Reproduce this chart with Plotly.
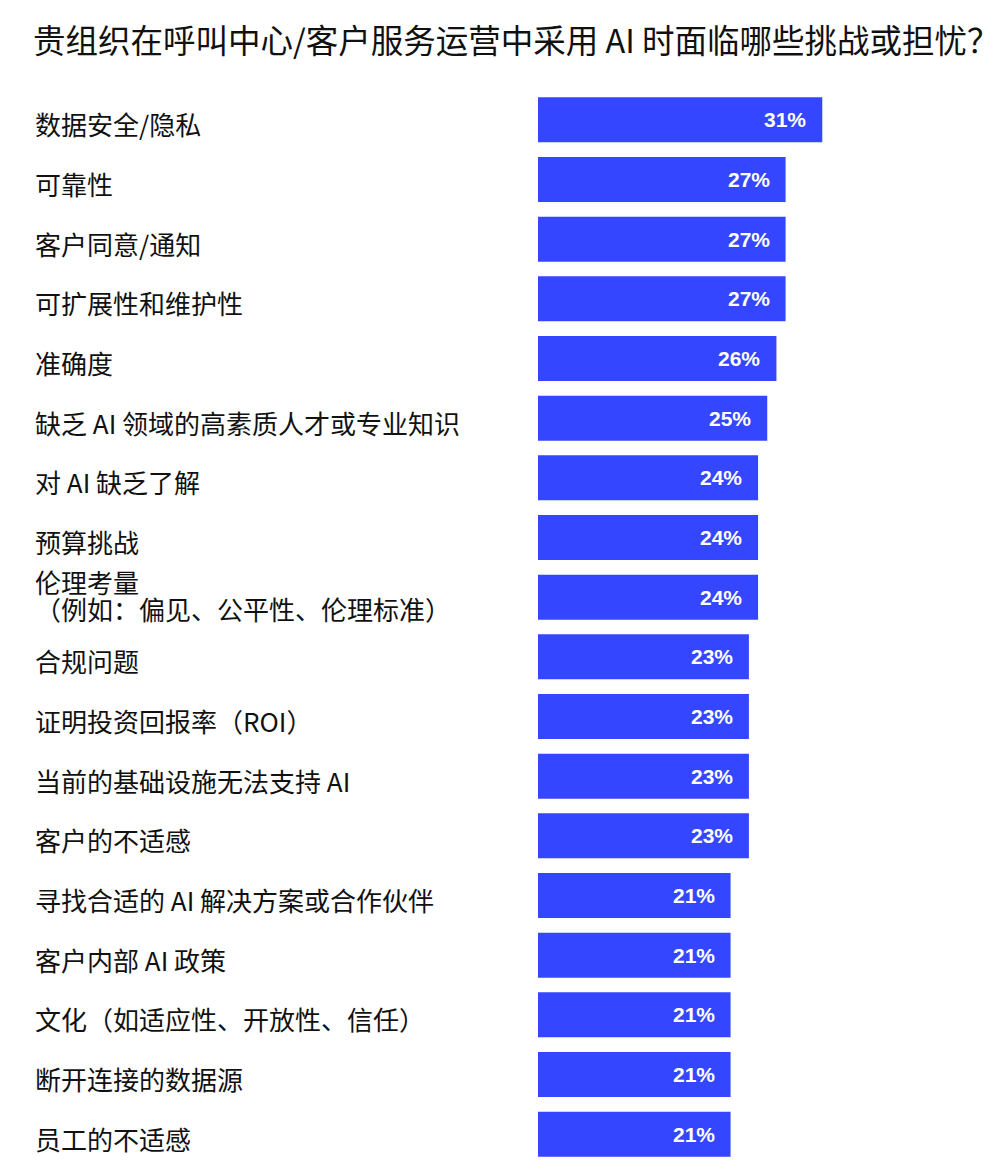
import plotly.graph_objects as go

# 数据
categories = [
    "数据安全/隐私",
    "可靠性",
    "客户同意/通知",
    "可扩展性和维护性",
    "准确度",
    "缺乏 AI 领域的高素质人才或专业知识",
    "对 AI 缺乏了解",
    "预算挑战",
    "伦理考量<br>（例如：偏见、公平性、伦理标准）",
    "合规问题",
    "证明投资回报率（ROI）",
    "当前的基础设施无法支持 AI",
    "客户的不适感",
    "寻找合适的 AI 解决方案或合作伙伴",
    "客户内部 AI 政策",
    "文化（如适应性、开放性、信任）",
    "断开连接的数据源",
    "员工的不适感",
]
values = [31, 27, 27, 27, 26, 25, 24, 24, 24, 23, 23, 23, 23, 21, 21, 21, 21, 21]

title_text = "贵组织在呼叫中心/客户服务运营中采用 AI 时面临哪些挑战或担忧？"

BAR_COLOR = "#3446FF"
CJK = "Noto Sans CJK SC"

# 页面本身有 8px 的边距
W, H = 1000, 1170
ML, MR, MT, MB = 530, 40, 82, 14
plot_w = W - ML - MR
px_per_unit = 9.17
label_x = 25

fig = go.Figure()
fig.add_trace(go.Bar(
    x=values,
    y=categories,
    orientation="h",
    marker=dict(color=BAR_COLOR, line=dict(width=0)),
    hoverinfo="skip",
))

# 左侧标签（两行的标签分开放，行距更紧）
for cat in categories:
    lines = cat.split("<br>")
    shifts = [-4] if len(lines) == 1 else [16, -11]
    for line, ys in zip(lines, shifts):
        fig.add_annotation(
            x=(label_x - ML) / plot_w, xref="paper", xanchor="left",
            y=cat, yref="y", yshift=ys,
            text=line, showarrow=False, align="left",
            font=dict(family=CJK, size=26, color="#111111"),
        )

# 条形末端的百分比
for cat, v in zip(categories, values):
    fig.add_annotation(
        x=v, xref="x", xanchor="right", xshift=-14,
        y=cat, yref="y",
        text="<b>%d%%</b>" % v, showarrow=False,
        font=dict(family="Liberation Sans, Arial", size=21, color="white"),
    )

fig.update_layout(
    width=W, height=H,
    margin=dict(l=ML, r=MR, t=MT, b=MB),
    paper_bgcolor="white", plot_bgcolor="white",
    bargap=0.245,
    showlegend=False,
    title=dict(
        text=title_text, x=label_x / W, xanchor="left", xref="container",
        y=1 - 34 / H, yanchor="middle",
        font=dict(family=CJK, size=32.5, color="#111111"),
    ),
    xaxis=dict(range=[0, plot_w / px_per_unit], visible=False),
    yaxis=dict(autorange="reversed", visible=False),
)

fig.write_html("out.html")
